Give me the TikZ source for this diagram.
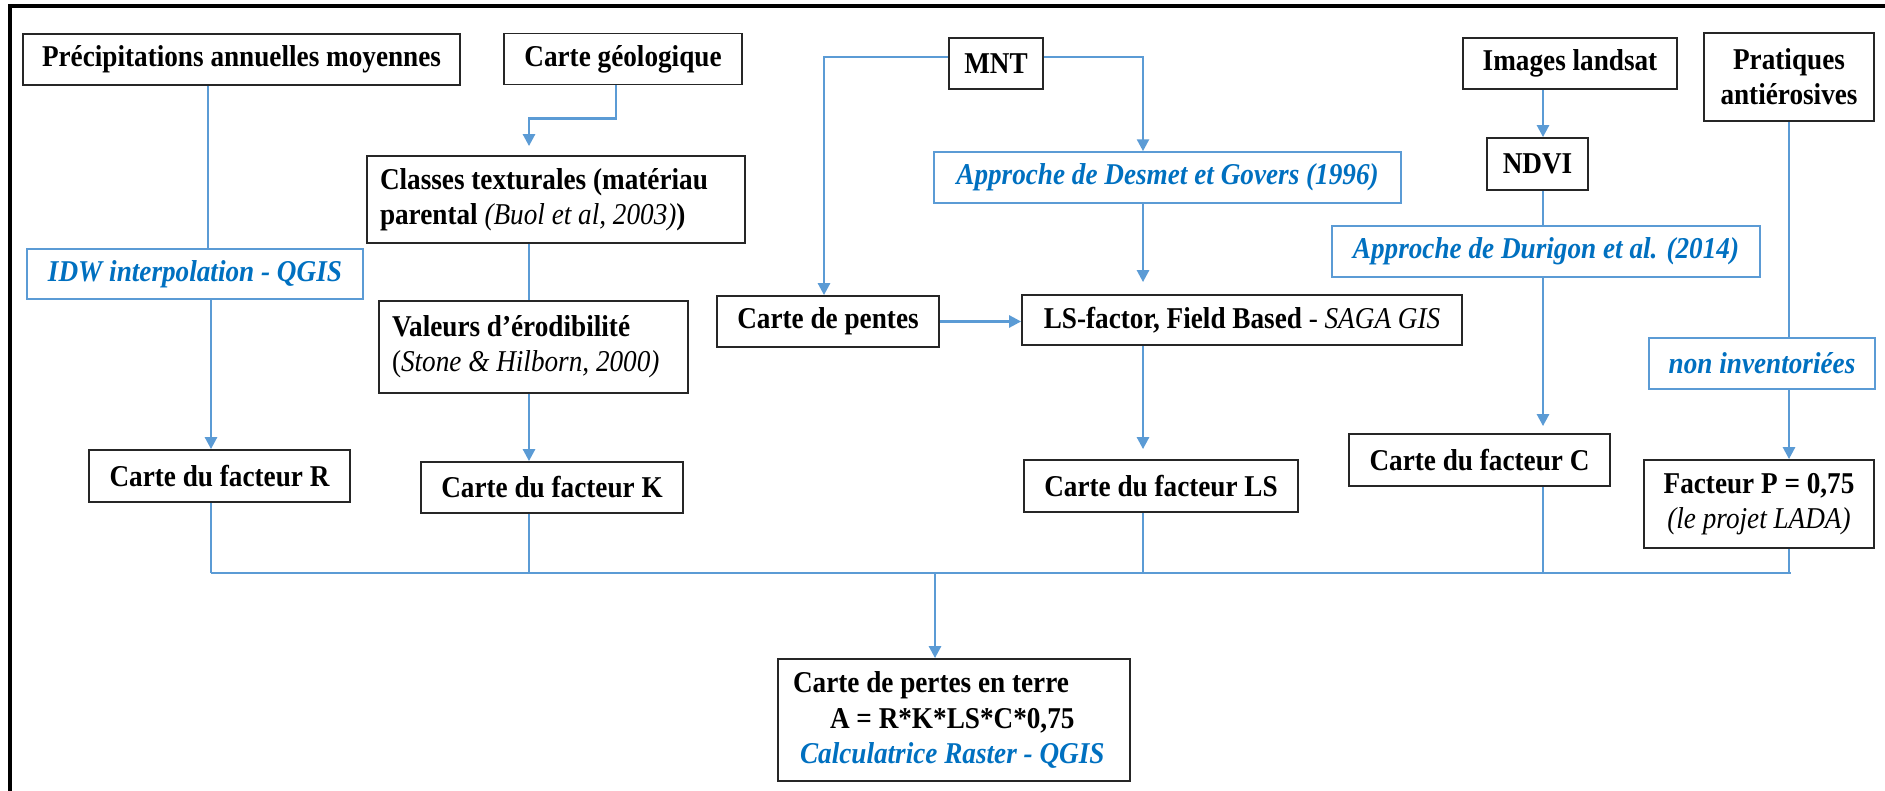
\documentclass[tikz,border=0pt]{standalone}
\usepackage{fontspec}
\setmainfont[FakeStretch=0.9]{Liberation Serif}
\usetikzlibrary{arrows.meta}
\definecolor{linkblue}{HTML}{5B9BD5}
\definecolor{textblue}{HTML}{0070C0}
\tikzset{
  blackbox/.style={draw=black!85, line width=0.5pt, inner sep=0pt, minimum height=0.51cm,
    font=\fontsize{8.6}{10}\selectfont\bfseries, align=center},
  bluebox/.style={draw=linkblue, line width=0.45pt, inner sep=0pt, minimum height=0.51cm,
    font=\fontsize{8.6}{10}\selectfont\bfseries\itshape, text=textblue, align=center},
  leftbox/.style={blackbox, inner xsep=0.13cm, align=flush left},
  link/.style={draw=linkblue, line width=0.75pt},
  arrowlink/.style={link, -{Triangle[length=3.4pt,width=3.4pt]}}
}
\begin{document}
\begin{tikzpicture}
                        \useasboundingbox (0,0) rectangle (18.85,7.91);

                        % Drawing the frame
                        \draw [line width=0.9pt] (0.10,0) -- (0.10,7.85) -- (18.85,7.85);%

                        % Drawing the input boxes
                        \node [blackbox, minimum width=4.37cm] (precip) at (2.415,7.315) {Précipitations annuelles moyennes};%
                        \node [blackbox, minimum width=2.38cm] (geol) at (6.230,7.320) {Carte géologique};%
                        \node [blackbox, minimum width=0.94cm] (mnt) at (9.960,7.275) {MNT};%
                        \node [blackbox, minimum width=2.14cm] (landsat) at (15.700,7.275) {Images landsat};%
                        \node [blackbox, minimum width=1.70cm, minimum height=0.88cm] (pratiques) at (17.890,7.140) {Pratiques\\antiérosives};%

                        % Drawing the processing boxes
                        \node [leftbox, text width=3.52cm, minimum height=0.87cm] (classes) at (5.560,5.915)
                          {Classes texturales (matériau\\parental {\mdseries\itshape (Buol et al, 2003)})};%
                        \node [bluebox, minimum width=4.67cm] (desmet) at (11.675,6.135) {Approche de Desmet et Govers (1996)};%
                        \node [blackbox, minimum width=1.01cm, minimum height=0.52cm] (ndvi) at (15.375,6.270) {NDVI};%
                        \node [bluebox, minimum width=4.28cm] (durigon) at (15.460,5.395) {Approche de Durigon et al. (2014)};%
                        \node [bluebox, minimum width=3.36cm, minimum height=0.50cm] (idw) at (1.950,5.170) {IDW interpolation - QGIS};%
                        \node [leftbox, text width=2.83cm, minimum height=0.92cm] (valeurs) at (5.335,4.440)
                          {Valeurs d’érodibilité\\{\mdseries (\itshape Stone \& Hilborn, 2000)}};%
                        \node [blackbox, minimum width=2.22cm] (pentes) at (8.280,4.695) {Carte de pentes};%
                        \node [blackbox, minimum width=4.40cm, minimum height=0.50cm] (lsfactor) at (12.420,4.710)
                          {LS-factor, Field Based {\mdseries - \itshape SAGA GIS}};%
                        \node [bluebox, minimum width=2.26cm] (noninv) at (17.620,4.275) {non inventoriées};%

                        % Drawing the factor maps
                        \node [blackbox, minimum width=2.61cm, minimum height=0.52cm] (carteR) at (2.195,3.150) {Carte du facteur R};%
                        \node [blackbox, minimum width=2.62cm] (carteK) at (5.520,3.035) {Carte du facteur K};%
                        \node [blackbox, minimum width=2.74cm, minimum height=0.52cm] (carteLS) at (11.610,3.050) {Carte du facteur LS};%
                        \node [blackbox, minimum width=2.61cm, minimum height=0.52cm] (carteC) at (14.795,3.310) {Carte du facteur C};%
                        \node [blackbox, minimum width=2.30cm, minimum height=0.88cm] (facteurP) at (17.590,2.870)
                          {Facteur P = 0,75\\{\mdseries\itshape (le projet LADA)}};%

                        % Drawing the result box
                        \node [leftbox, inner xsep=0.15cm, text width=3.22cm, minimum height=1.22cm] (pertes) at (9.540,0.710)
                          {Carte de pertes en terre\\\hspace*{0.37cm}A = R*K*LS*C*0,75\\\hspace*{0.07cm}{\color{textblue}\itshape Calculatrice Raster - QGIS}};%

                        % Columns of the connectors
                        \coordinate (xprecip) at (2.08,0);%
                        \coordinate (xrfac) at (2.11,0);%
                        \coordinate (xkfac) at (5.29,0);%
                        \coordinate (xgeol) at (6.16,0);%
                        \coordinate (xpente) at (8.24,0);%
                        \coordinate (xpertes) at (9.35,0);%
                        \coordinate (xlsfac) at (11.43,0);%
                        \coordinate (xcfac) at (15.43,0);%
                        \coordinate (xpfac) at (17.89,0);%
                        \coordinate (busleft) at (2.11,2.18);%
                        \coordinate (busright) at (17.91,2.18);%

                        % Drawing factor R branch
                        \draw [link] (xprecip |- precip.south) -- (xprecip |- idw.north);%
                        \draw [arrowlink] (xrfac |- idw.south) -- (xrfac |- carteR.north);%
                        \draw [link] (xrfac |- carteR.south) -- (busleft);%

                        % Drawing factor K branch
                        \draw [arrowlink] (xgeol |- geol.south) -- ++(0,-0.33) -| ([yshift=0.9mm]xkfac |- classes.north);%
                        \draw [link] (xkfac |- classes.south) -- (xkfac |- valeurs.north);%
                        \draw [arrowlink] (xkfac |- valeurs.south) -- (xkfac |- carteK.north);%
                        \draw [link] (xkfac |- carteK.south) -- (xkfac |- busleft);%

                        % Drawing factor LS branch
                        \draw [arrowlink] ([yshift=0.65mm]mnt.west) -| (xpente |- pentes.north);%
                        \draw [arrowlink] ([yshift=0.65mm]mnt.east) -| (xlsfac |- desmet.north);%
                        \draw [arrowlink] (xlsfac |- desmet.south) -- ([yshift=1.2mm]xlsfac |- lsfactor.north);%
                        \draw [arrowlink] (pentes.east) -- (pentes.east -| lsfactor.west);%
                        \draw [arrowlink] (xlsfac |- lsfactor.south) -- ([yshift=1mm]xlsfac |- carteLS.north);%
                        \draw [link] (xlsfac |- carteLS.south) -- (xlsfac |- busleft);%

                        % Drawing factor C branch
                        \draw [arrowlink] (xcfac |- landsat.south) -- (xcfac |- ndvi.north);%
                        \draw [link] (xcfac |- ndvi.south) -- (xcfac |- durigon.north);%
                        \draw [arrowlink] (xcfac |- durigon.south) -- ([yshift=0.7mm]xcfac |- carteC.north);%
                        \draw [link] (xcfac |- carteC.south) -- (xcfac |- busleft);%

                        % Drawing factor P branch
                        \draw [link] (xpfac |- pratiques.south) -- (xpfac |- noninv.north);%
                        \draw [arrowlink] (xpfac |- noninv.south) -- (xpfac |- facteurP.north);%
                        \draw [link] (xpfac |- facteurP.south) -- (xpfac |- busleft);%

                        % Drawing the bus and the result arrow
                        \draw [link] (busleft) -- (busright);%
                        \draw [arrowlink] (xpertes |- busleft) -- (xpertes |- pertes.north);%
                    \end{tikzpicture}
\end{document}
